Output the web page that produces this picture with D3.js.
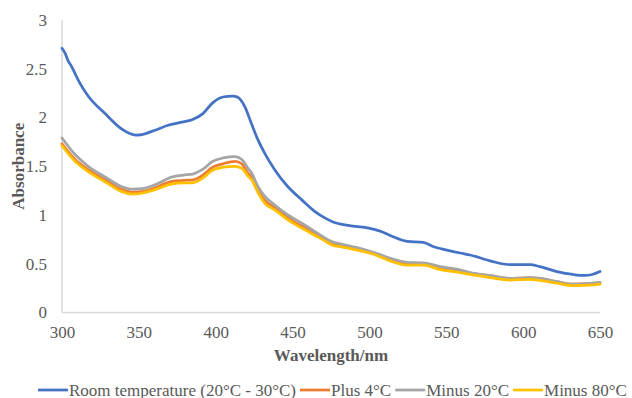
<!DOCTYPE html>
<html>
<head>
<meta charset="utf-8">
<script src="https://cdn.jsdelivr.net/npm/d3@7"></script>
<style>
  body { margin: 0; background: #fff; }
  text { font-family: "Liberation Serif", "Times New Roman", serif; }
</style>
</head>
<body>
<div id="chart"></div>
<script>
// wavelengths (nm) for the room temperature curve
var roomWl = [300, 302, 304, 306, 308.5, 311, 317, 328, 339, 344, 348, 352, 360.5, 369, 377, 385,
  391.7, 398, 404.7, 411, 414, 419, 423.4, 427.5, 432, 438.6, 447, 456, 464.6, 471, 476, 487,
  498, 507, 515, 524.5, 535, 541, 550.5, 559, 565.5, 578.5, 591.5, 604.5, 611, 622, 632.5, 640, 645, 650];
var roomAbs = [2.71, 2.66, 2.58, 2.53, 2.45, 2.37, 2.22, 2.04, 1.88, 1.835, 1.82, 1.825, 1.87, 1.92, 1.95, 1.98,
  2.04, 2.15, 2.21, 2.22, 2.21, 2.11, 1.93, 1.77, 1.63, 1.46, 1.29, 1.155, 1.035, 0.97, 0.93, 0.89,
  0.87, 0.835, 0.78, 0.73, 0.72, 0.68, 0.64, 0.61, 0.59, 0.53, 0.49, 0.49, 0.47, 0.42, 0.39, 0.38, 0.39, 0.42];

// wavelengths (nm) shared by the three stored samples
var coldWl = [300, 308.5, 317, 328, 339, 345.5, 352, 360.5, 371.5, 379, 385, 391.7, 398, 404.7,
  412.6, 417, 421, 423.4, 427.5, 432, 438.6, 447, 456, 464.6, 471, 476, 481, 492, 502, 515, 524.5,
  535, 546, 557, 565.5, 578.5, 591.5, 604.5, 611, 622, 632.5, 643.5, 650];
var plus4Abs = [1.73, 1.57, 1.465, 1.36, 1.26, 1.235, 1.24, 1.28, 1.345, 1.355, 1.36, 1.41, 1.49, 1.525,
  1.55, 1.525, 1.43, 1.39, 1.25, 1.15, 1.07, 0.97, 0.885, 0.81, 0.75, 0.705, 0.69, 0.655, 0.61, 0.54, 0.505,
  0.505, 0.46, 0.435, 0.405, 0.375, 0.35, 0.355, 0.35, 0.315, 0.29, 0.295, 0.305];
var minus20Abs = [1.79, 1.62, 1.50, 1.39, 1.29, 1.265, 1.27, 1.31, 1.39, 1.41, 1.42, 1.47, 1.55, 1.585,
  1.60, 1.57, 1.48, 1.43, 1.29, 1.19, 1.10, 1.00, 0.915, 0.83, 0.765, 0.725, 0.705, 0.665, 0.62, 0.55, 0.515,
  0.51, 0.47, 0.445, 0.41, 0.38, 0.35, 0.357, 0.35, 0.316, 0.29, 0.30, 0.31];
var minus80Abs = [1.71, 1.55, 1.445, 1.34, 1.24, 1.215, 1.225, 1.26, 1.32, 1.33, 1.33, 1.38, 1.46, 1.49,
  1.50, 1.48, 1.40, 1.36, 1.23, 1.12, 1.05, 0.95, 0.865, 0.79, 0.735, 0.69, 0.675, 0.64, 0.60, 0.52, 0.485,
  0.485, 0.44, 0.415, 0.39, 0.357, 0.333, 0.34, 0.33, 0.30, 0.275, 0.28, 0.29];

var seriesNames = ["Room temperature (20°C - 30°C)", "Plus 4°C", "Minus 20°C", "Minus 80°C"];
var seriesColors = ["#4472C4", "#ED7D31", "#A5A5A5", "#FFC000"];
var xTicks = [300, 350, 400, 450, 500, 550, 600, 650];
var yTicks = [0, 0.5, 1, 1.5, 2, 2.5, 3];

var svgWidth = 632;
var svgHeight = 398;
var margin = { top: 20, right: 32, bottom: 85.5, left: 62 };
var width = svgWidth - margin.left - margin.right;
var height = svgHeight - margin.top - margin.bottom;
var fontSize = "17px";

var svg = d3.select("#chart")
  .append("svg")
  .attr("width", svgWidth)
  .attr("height", svgHeight);

var chartGroup = svg.append("g")
  .attr("transform", `translate(${margin.left}, ${margin.top})`);

var xScale = d3.scaleLinear().domain([300, 650]).range([0, width]);
var yScale = d3.scaleLinear().domain([0, 3]).range([height, 0]);

// axes: thin light grey lines, no tick marks
var bottomAxis = d3.axisBottom(xScale).tickValues(xTicks).tickSize(0).tickPadding(13);
var leftAxis = d3.axisLeft(yScale).tickValues(yTicks).tickSize(0).tickPadding(15)
  .tickFormat(d3.format("~g"));

var xAxis = chartGroup.append("g")
  .attr("transform", `translate(0, ${height})`)
  .call(bottomAxis);
var yAxis = chartGroup.append("g").call(leftAxis);

[xAxis, yAxis].forEach(function(ax) {
  ax.attr("font-family", null);
  ax.select(".domain").attr("stroke", "#d9d9d9").attr("stroke-width", 1.5);
  ax.selectAll("text")
    .attr("fill", "#595959")
    .style("font-size", fontSize);
});
xAxis.select(".domain").attr("d", `M0,0H${width}`);
yAxis.select(".domain").attr("d", `M0,${height}V0`);

// build the series
var series = [
  { name: seriesNames[0], color: seriesColors[0], pts: roomWl.map((w, i) => [w, roomAbs[i]]) },
  { name: seriesNames[1], color: seriesColors[1], pts: coldWl.map((w, i) => [w, plus4Abs[i]]) },
  { name: seriesNames[2], color: seriesColors[2], pts: coldWl.map((w, i) => [w, minus20Abs[i]]) },
  { name: seriesNames[3], color: seriesColors[3], pts: coldWl.map((w, i) => [w, minus80Abs[i]]) }
];

var line = d3.line()
  .x(d => xScale(d[0]))
  .y(d => yScale(d[1]))
  .curve(d3.curveMonotoneX);

chartGroup.selectAll(".series")
  .data(series)
  .enter()
  .append("path")
  .attr("class", "series")
  .attr("fill", "none")
  .attr("stroke", d => d.color)
  .attr("stroke-width", 2.75)
  .attr("stroke-linejoin", "round")
  .attr("stroke-linecap", "round")
  .attr("d", d => line(d.pts));

// axis titles
svg.append("text")
  .attr("transform", `translate(24, ${margin.top + height / 2}) rotate(-90)`)
  .attr("text-anchor", "middle")
  .attr("fill", "#595959")
  .style("font-size", fontSize)
  .style("font-weight", "bold")
  .text("Absorbance");

svg.append("text")
  .attr("x", margin.left + width / 2)
  .attr("y", 361)
  .attr("text-anchor", "middle")
  .attr("fill", "#595959")
  .style("font-size", fontSize)
  .style("font-weight", "bold")
  .text("Wavelength/nm");

// legend along the bottom
var legendGroup = svg.append("g").attr("transform", "translate(38, 390)");
var cursor = 0;
series.forEach(function(s) {
  legendGroup.append("line")
    .attr("x1", cursor).attr("x2", cursor + 30)
    .attr("y1", 0).attr("y2", 0)
    .attr("stroke", s.color)
    .attr("stroke-width", 2.75);
  var label = legendGroup.append("text")
    .attr("x", cursor + 31)
    .attr("y", 5.5)
    .attr("fill", "#595959")
    .style("font-size", fontSize)
    .text(s.name);
  cursor += 31 + label.node().getComputedTextLength() + 4;
});
</script>
</body>
</html>
